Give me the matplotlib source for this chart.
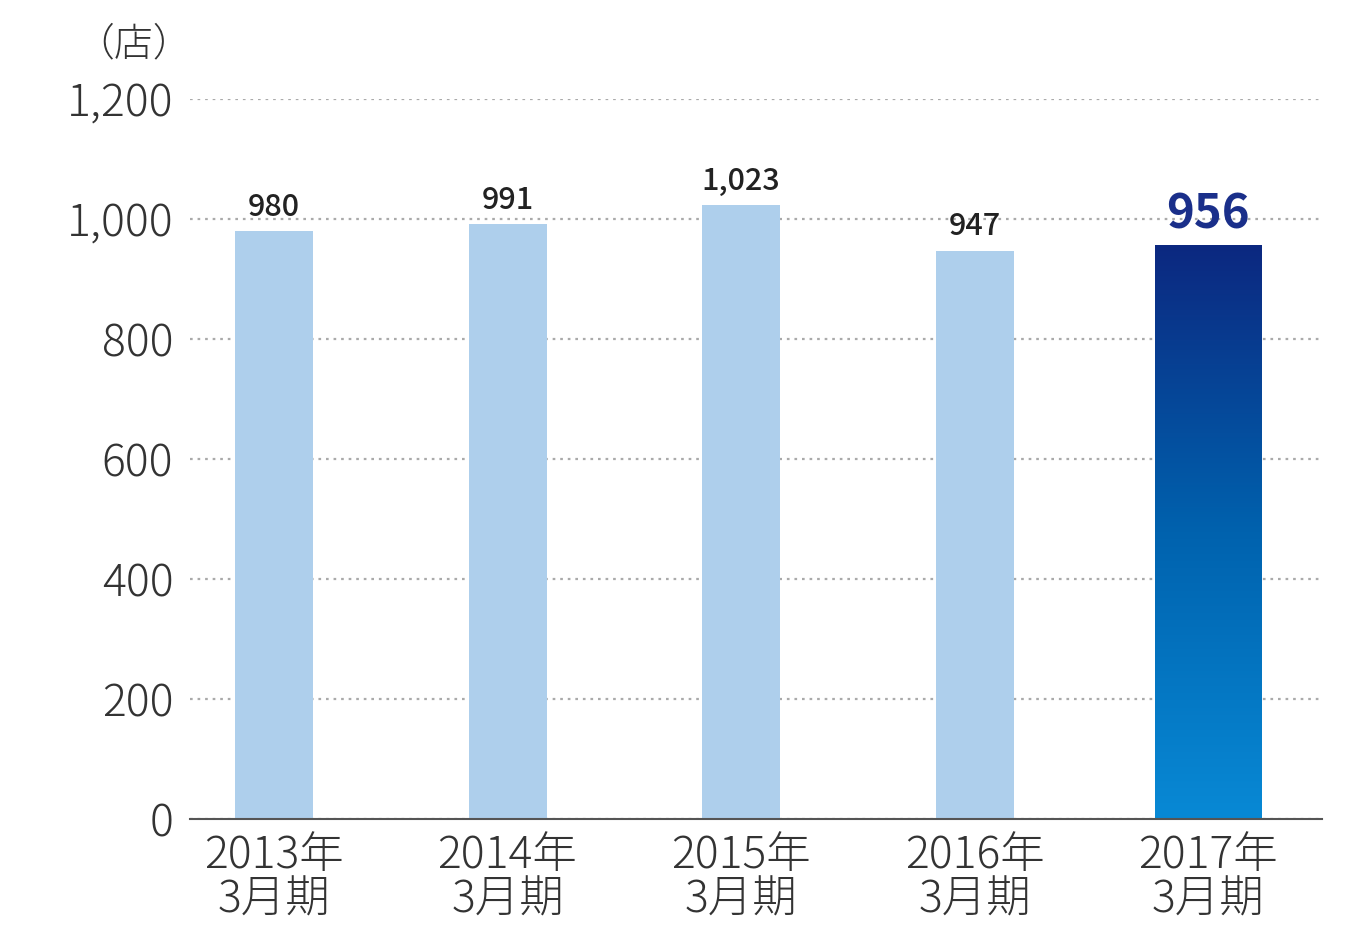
import matplotlib.pyplot as plt
from matplotlib.colors import LinearSegmentedColormap
import numpy as np

# Store counts per fiscal year (March year-end)
years = ['2013年', '2014年', '2015年', '2016年', '2017年']
periods = ['3月期', '3月期', '3月期', '3月期', '3月期']
stores = [980, 991, 1023, 947, 956]
value_labels = ['980', '991', '1,023', '947', '956']
y_ticks = [0, 200, 400, 600, 800, 1000, 1200]
y_tick_labels = ['0', '200', '400', '600', '800', '1,000', '1,200']

plt.rcParams['font.family'] = ['Noto Sans CJK JP', 'DejaVu Sans']

fig = plt.figure(figsize=(13.56, 9.48), dpi=100)
ax = fig.add_axes([190 / 1356, 1 - 819 / 948, (1322 - 190) / 1356, (819 - 99) / 948])

x = np.arange(len(stores))
light_color = '#aecfec'

# Light bars for the previous years, a wider gradient bar for the latest year
widths = [0.334] * (len(stores) - 1) + [0.458]
bars = ax.bar(x, stores, width=widths, color=[light_color] * (len(stores) - 1) + ['none'],
              zorder=3, linewidth=0)

# Vertical gradient inside the last bar
cmap = LinearSegmentedColormap.from_list('blue_grad', ['#0889d5', '#0062ae', '#0c2880'])
last = bars[-1]
bx0, by0 = last.get_x(), last.get_y()
bx1, by1 = bx0 + last.get_width(), by0 + last.get_height()
grad = np.linspace(0, 1, 256).reshape(-1, 1)
im = ax.imshow(grad, cmap=cmap, extent=[bx0, bx1, by0, by1], origin='lower',
               aspect='auto', zorder=3)
im.set_clip_path(last)

# Value labels above bars
for i, (v, lab) in enumerate(zip(stores, value_labels)):
    if i == len(stores) - 1:
        ax.annotate(lab, (x[i], v), xytext=(0, 5), textcoords='offset points',
                    ha='center', va='bottom', fontsize=34, fontweight='bold',
                    color='#1a2f8a', zorder=5)
    else:
        ax.annotate(lab, (x[i], v), xytext=(0, 6), textcoords='offset points',
                    ha='center', va='bottom', fontsize=22, fontweight='medium',
                    color='#222222', zorder=5)

ax.set_xlim(-0.36, 4.488)
ax.set_ylim(0, 1200)
ax.set_yticks(y_ticks)
ax.set_yticklabels(y_tick_labels)
ax.set_xticks(x)
ax.set_xticklabels([y + '\n' + p for y, p in zip(years, periods)], linespacing=1.0)

ax.tick_params(axis='y', length=0, pad=12, labelsize=32, labelcolor='#333333')
ax.tick_params(axis='x', length=0, pad=10, labelsize=32, labelcolor='#333333')
for lab in ax.get_yticklabels() + ax.get_xticklabels():
    lab.set_fontweight('light')

# Dotted gridlines
ax.yaxis.grid(True, linestyle=(0, (1.2, 2.2)), color='#aaaaaa', linewidth=1.6, zorder=0)
ax.set_axisbelow(True)

for s in ['top', 'right', 'left']:
    ax.spines[s].set_visible(False)
ax.spines['bottom'].set_color('#555555')
ax.spines['bottom'].set_linewidth(1.5)
ax.spines['bottom'].set_zorder(4)

# Unit label
fig.text(192 / 1356, 1 - 45 / 948, '（店）', ha='right', va='center', fontsize=28,
         fontweight='light', color='#333333')

fig.savefig('out.png', dpi=100)
